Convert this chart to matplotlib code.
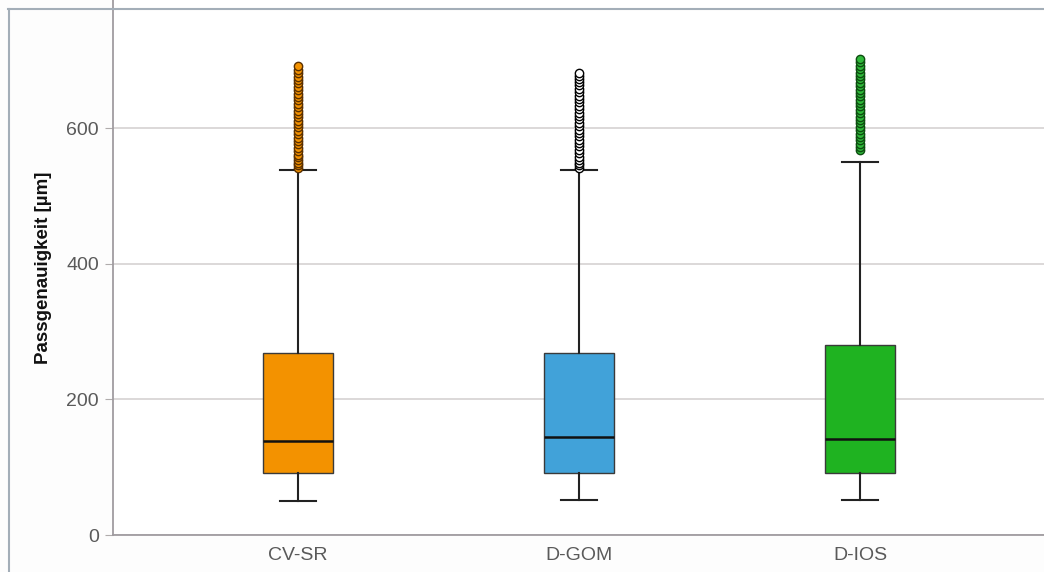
import numpy as np
import matplotlib.pyplot as plt
from matplotlib.lines import Line2D

plt.rcParams['font.family'] = ['Liberation Sans', 'DejaVu Sans']

# Werte (µm)
groups = ["CV-SR", "D-GOM", "D-IOS"]
whislo = [50, 52, 52]
q1 = [91, 91, 91]
med = [138, 144, 141]
q3 = [268, 268, 280]
whishi = [538, 538, 550]
fliers_cvsr = [541, 545, 549, 553, 557, 561, 566, 571, 576, 581, 586, 591,
               596, 601, 606, 611, 616, 621, 626, 631, 636, 641, 646, 651,
               656, 661, 666, 671, 676, 681, 686, 692]
fliers_dgom = [541, 545, 549, 553, 558, 563, 568, 573, 578, 583, 588, 593,
               598, 603, 608, 613, 618, 623, 628, 633, 638, 643, 648, 653,
               658, 663, 668, 673, 677, 681]
fliers_dios = [568, 572, 577, 582, 587, 592, 597, 602, 607, 612, 617, 622,
               627, 632, 637, 642, 647, 652, 657, 662, 667, 672, 677, 682,
               687, 692, 697, 702]
fliers = [fliers_cvsr, fliers_dgom, fliers_dios]

box_colors = ["#f39200", "#41a2d9", "#1fb321"]
flier_face = ["#f39200", "#ffffff", "#2fb83a"]
flier_edge = ["#5a3000", "#000000", "#0d4d10"]

stats = []
for i, g in enumerate(groups):
    stats.append(dict(label=g, whislo=whislo[i], q1=q1[i], med=med[i],
                      q3=q3[i], whishi=whishi[i], fliers=fliers[i]))

fig = plt.figure(figsize=(10.44, 5.72), dpi=100)
fig.patch.set_facecolor("#fdfdfd")
ax = fig.add_axes([113/1044, 37/572, (1044-113)/1044, 535/572])
ax.set_facecolor("#ffffff")

bp = ax.bxp(stats, positions=[1, 2, 3], widths=0.25, patch_artist=True,
            showfliers=False,
            boxprops=dict(edgecolor="#3a3a3a", linewidth=1.0),
            medianprops=dict(color="#111111", linewidth=1.8),
            whiskerprops=dict(color="#222222", linewidth=1.5),
            capprops=dict(color="#222222", linewidth=1.5),
            capwidths=0.13, zorder=3)
for patch, c in zip(bp["boxes"], box_colors):
    patch.set_facecolor(c)

for i, f in enumerate(fliers):
    ax.plot([i + 1] * len(f), f, linestyle="none", marker="o", markersize=6,
            markerfacecolor=flier_face[i], markeredgecolor=flier_edge[i],
            markeredgewidth=1.0, zorder=4)

ax.set_xlim(0.342, 3.654)
ax.set_ylim(0, 789)
ax.set_yticks([0, 200, 400, 600])
ax.yaxis.grid(True, color="#d6d2d2", linewidth=1.2, zorder=0)
ax.set_axisbelow(True)
ax.set_xticks([1, 2, 3])
ax.set_xticklabels(groups)
ax.tick_params(axis="both", labelsize=14, labelcolor="#5a5a5a",
               color="#b0acac", length=0, pad=9)
ax.tick_params(axis="y", length=6, pad=4)
ax.set_ylabel("Passgenauigkeit [µm]", fontsize=13.5, fontweight="bold",
              color="#111111", labelpad=10)

for s in ["top", "right"]:
    ax.spines[s].set_visible(False)
for s in ["left", "bottom"]:
    ax.spines[s].set_color("#a09ca0")
    ax.spines[s].set_linewidth(1.3)

# Rahmen oben und links
fig.add_artist(Line2D([8/1044, 1], [1 - 8.5/572, 1 - 8.5/572],
                      transform=fig.transFigure, color="#a3aeb8", linewidth=1.5))
fig.add_artist(Line2D([8.5/1044, 8.5/1044], [0, 1 - 8.5/572],
                      transform=fig.transFigure, color="#a3aeb8", linewidth=1.5))

fig.savefig("out.png", dpi=100, facecolor=fig.get_facecolor())
